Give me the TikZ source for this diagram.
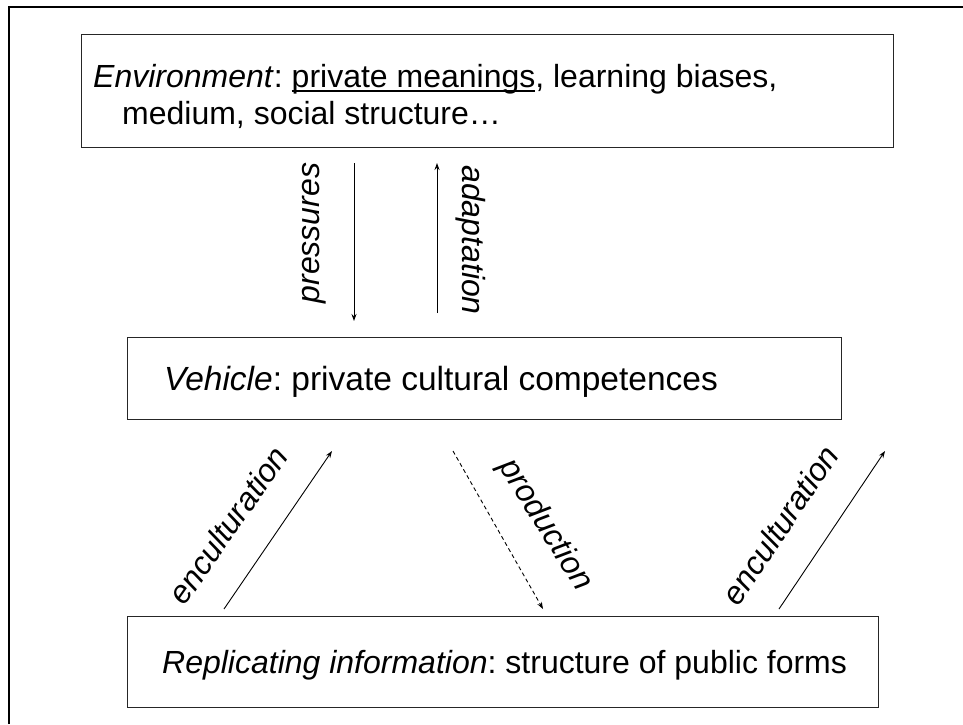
\documentclass[tikz,border=0pt]{standalone}
\usepackage{fontspec}
\setmainfont{Liberation Sans}
\usetikzlibrary{arrows.meta}
\frenchspacing
\newcommand\myul[1]{\setbox0\hbox{#1}\rlap{\rule[-4.5pt]{\wd0}{1.8pt}}\box0}
\tikzset{
  boxframe/.style={draw=black!85, line width=1.3pt, fill=white},
  lbl/.style={inner sep=0pt, font=\fontsize{32}{37}\selectfont\itshape},
  txt/.style={inner sep=0pt, font=\fontsize{32}{37}\selectfont},
  arr/.style={line width=0.9pt, -{Stealth[length=7pt,width=5pt]}}
}
\begin{document}
\begin{tikzpicture}[x=1pt,y=-1pt]
\useasboundingbox (0,0) rectangle (963,724);
% outer frame
\draw[line width=2.7pt] (9,724) -- (9,7) -- (963,7);
% boxes
\node[boxframe, anchor=north west, minimum width=812pt, minimum height=113pt] (env) at (81,34) {};
\node[boxframe, anchor=north west, minimum width=714pt, minimum height=82pt] (veh) at (127,337) {};
\node[boxframe, anchor=north west, minimum width=751pt, minimum height=91pt] (rep) at (127,616) {};
% texts
\node[txt, anchor=base west] (envt1) at (93,87) {\textit{Environment}: \myul{private meanings}, learning biases,};
\node[txt, anchor=base west] (envt2) at (122,124) {medium, social structure…};
\node[txt, anchor=base west] (veht) at (164,390) {\fontsize{33.5}{38}\selectfont\textit{Vehicle}: private cultural competences};
\node[txt, anchor=base west] (rept) at (162,673) {\textit{Replicating information}: structure of public forms};
% arrow end points
\coordinate (p1) at (354,163);
\coordinate (p2) at (354,321);
\coordinate (a1) at (437,313);
\coordinate (a2) at (437,163);
\coordinate (e1) at (224,609);
\coordinate (e2) at (332,451);
\coordinate (d1) at (453,451);
\coordinate (d2) at (543,609);
\coordinate (f1) at (779,609);
\coordinate (f2) at (885,451);
% arrows
\draw[arr] (p1) -- (p2);
\draw[arr] (a1) -- (a2);
\draw[arr] (e1) -- (e2);
\draw[arr, dashed, dash pattern=on 4pt off 3pt] (d1) -- (d2);
\draw[arr] (f1) -- (f2);
% labels
\node[lbl, rotate=90] (lp) at (314,233) {pressures};
\node[lbl, rotate=-90] (la) at (471,240) {adaptation};
\node[lbl, rotate=55] (le1) at (228,525) {enculturation};
\node[lbl, rotate=-58] (lpr) at (545,525) {production};
\node[lbl, rotate=56] (le2) at (780,525) {enculturation};
\end{tikzpicture}
\end{document}
